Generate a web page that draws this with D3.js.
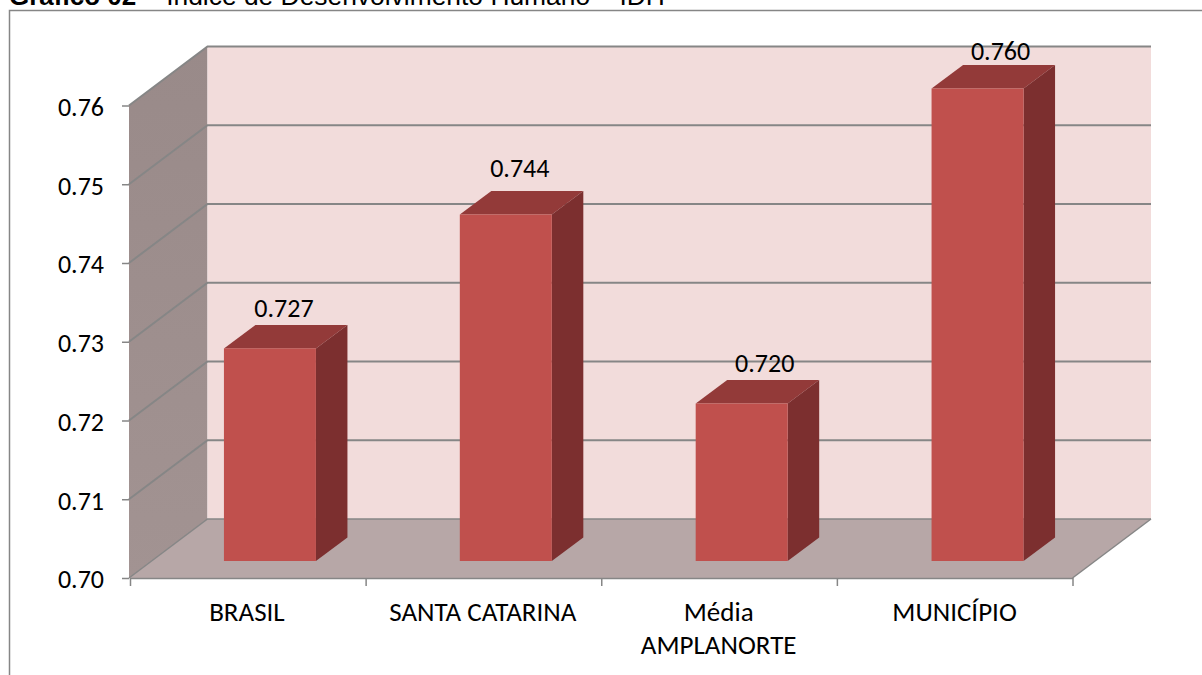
<!DOCTYPE html>
<html>
<head>
<meta charset="utf-8">
<script src="https://d3js.org/d3.v7.min.js"></script>
<style>
  html, body { margin: 0; padding: 0; background: #fff; overflow: hidden; }
  text { font-family: Carlito, "Open Sans", "Noto Sans", sans-serif; }
</style>
</head>
<body>
<script>
// dados do grafico
const categories = ["BRASIL", "SANTA CATARINA", "Média AMPLANORTE", "MUNICÍPIO"];
const values = [0.727, 0.744, 0.720, 0.760];
const valueLabels = ["0.727", "0.744", "0.720", "0.760"];
const yTicks = [0.70, 0.71, 0.72, 0.73, 0.74, 0.75, 0.76];

const width = 1202, height = 675;

// caixa frontal do grafico e profundidade 3D
const plot = { left: 129, right: 1072.5, top: 105.5, bottom: 578 };
const depth = { dx: 78.5, dy: -59 };   // chao / parede
const barDepth = { dx: 31.5, dy: -23.5 };
const barShift = { dx: 23, dy: -17 }; // barra fica recuada no chao
// rotulos foram movidos a mao no original
const labelDx = [14, 14, 23, 23];
const labelDy = [-31, -38, -31.5, -29];

const svg = d3.select("body").append("svg")
  .attr("width", width)
  .attr("height", height);

const x = d3.scaleBand().domain(categories).range([plot.left, plot.right]).paddingInner(0).paddingOuter(0);
const y = d3.scaleLinear().domain([0.70, 0.76]).range([plot.bottom, plot.top]);
const barWidth = 92;

const poly = pts => pts.map(p => p.join(",")).join(" ");
const gridColor = "#868686";

// titulo cortado no topo
const title = svg.append("text")
  .attr("x", 9).attr("y", 5)
  .attr("font-size", 26)
  .attr("fill", "#000")
  .style("font-family", "Liberation Sans, Arial, sans-serif");
title.append("tspan").attr("font-weight", "bold").text("Gráfico 02");
title.append("tspan").attr("dx", 8).attr("font-size", 26.4).text("– Índice de Desenvolvimento Humano – IDH");

// moldura
svg.append("path")
  .attr("d", `M9.5,${height} V10.5 H${width}`)
  .attr("fill", "none").attr("stroke", "#868686").attr("stroke-width", 1.5);

// parede lateral
const defs = svg.append("defs");
const sideGrad = defs.append("linearGradient").attr("id", "side")
  .attr("x1", 0).attr("y1", 0).attr("x2", 0).attr("y2", 1);
sideGrad.append("stop").attr("offset", "0%").attr("stop-color", "#998a89");
sideGrad.append("stop").attr("offset", "100%").attr("stop-color", "#a29392");

svg.append("polygon")
  .attr("points", poly([
    [plot.left, y(0.76)], [plot.left + depth.dx, y(0.76) + depth.dy],
    [plot.left + depth.dx, y(0.70) + depth.dy], [plot.left, y(0.70)]
  ]))
  .attr("fill", "url(#side)");

// parede do fundo
svg.append("rect")
  .attr("x", plot.left + depth.dx)
  .attr("y", y(0.76) + depth.dy)
  .attr("width", plot.right - plot.left)
  .attr("height", y(0.70) - y(0.76))
  .attr("fill", "#f2dcdb");

// chao
svg.append("polygon")
  .attr("points", poly([
    [plot.left, y(0.70)], [plot.left + depth.dx, y(0.70) + depth.dy],
    [plot.right + depth.dx, y(0.70) + depth.dy], [plot.right, y(0.70)]
  ]))
  .attr("fill", "#b7a7a7");

// linhas de grade
yTicks.forEach(t => {
  svg.append("path")
    .attr("d", `M${plot.left},${y(t)} L${plot.left + depth.dx},${y(t) + depth.dy} H${plot.right + depth.dx}`)
    .attr("fill", "none").attr("stroke", gridColor).attr("stroke-width", t === 0.70 ? 1.5 : 2);
});
svg.append("line")
  .attr("x1", plot.right).attr("y1", y(0.70))
  .attr("x2", plot.right + depth.dx).attr("y2", y(0.70) + depth.dy)
  .attr("stroke", gridColor).attr("stroke-width", 1.5);

// barras 3D
const bars = svg.selectAll("g.bar")
  .data(categories.map((c, i) => ({ c, v: values[i], label: valueLabels[i], i })))
  .enter().append("g").attr("class", "bar");

const bx0 = d => x(d.c) + (x.bandwidth() - barWidth) / 2 + barShift.dx;
const bx1 = d => bx0(d) + barWidth;
const byTop = d => y(d.v) + barShift.dy;
const byBase = () => y(0.70) + barShift.dy;

bars.append("polygon")
  .attr("points", d => poly([
    [bx0(d), byTop(d)], [bx0(d) + barDepth.dx, byTop(d) + barDepth.dy],
    [bx1(d) + barDepth.dx, byTop(d) + barDepth.dy], [bx1(d), byTop(d)]
  ]))
  .attr("fill", "#933a39");

bars.append("polygon")
  .attr("points", d => poly([
    [bx1(d), byTop(d)], [bx1(d) + barDepth.dx, byTop(d) + barDepth.dy],
    [bx1(d) + barDepth.dx, byBase() + barDepth.dy], [bx1(d), byBase()]
  ]))
  .attr("fill", "#7c2f2f");

bars.append("rect")
  .attr("x", bx0)
  .attr("y", byTop)
  .attr("width", barWidth)
  .attr("height", d => byBase() - byTop(d))
  .attr("fill", "#c0504d");

// rotulos de valor
bars.append("text")
  .attr("x", d => bx0(d) + barWidth / 2 + labelDx[d.i])
  .attr("y", d => byTop(d) + labelDy[d.i])
  .attr("text-anchor", "middle")
  .attr("font-size", 26)
  .attr("fill", "#000")
  .text(d => d.label);

// eixo Y
const yAxis = d3.axisLeft(y).tickValues(yTicks).tickFormat(d3.format(".2f")).tickSize(7).tickPadding(18);
const yG = svg.append("g").attr("transform", `translate(${plot.left},0)`).call(yAxis);
yG.select(".domain").remove();
yG.selectAll("line").attr("stroke", gridColor).attr("stroke-width", 1.5);
yG.selectAll("text").attr("font-size", 26).attr("fill", "#000").attr("dy", "0.38em");
yG.attr("font-family", null);

// eixo X
const xAxis = d3.axisBottom(d3.scaleLinear().domain([0, categories.length]).range([plot.left + 1, plot.right]))
  .ticks(categories.length).tickFormat("").tickSize(8).tickSizeOuter(0);
const xG = svg.append("g").attr("transform", `translate(0,${plot.bottom})`).call(xAxis);
xG.attr("font-family", null);
xG.select(".domain").attr("stroke", gridColor).attr("stroke-width", 1.5);
xG.selectAll("line").attr("stroke", gridColor).attr("stroke-width", 1.5);

// rotulos das categorias, com quebra em "Média AMPLANORTE"
const catLabels = svg.selectAll("text.cat")
  .data(categories)
  .enter().append("text")
  .attr("class", "cat")
  .attr("text-anchor", "middle")
  .attr("font-size", 27)
  .attr("fill", "#000")
  .attr("y", 621);

catLabels.each(function (d) {
  const t = d3.select(this);
  const cx = x(d) + x.bandwidth() / 2;
  if (d === "Média AMPLANORTE") {
    const parts = d.split(" ");
    t.append("tspan").attr("x", cx).text(parts[0]);
    t.append("tspan").attr("x", cx).attr("dy", 33).text(parts[1]);
  } else {
    t.attr("x", cx).text(d);
  }
});
</script>
</body>
</html>
